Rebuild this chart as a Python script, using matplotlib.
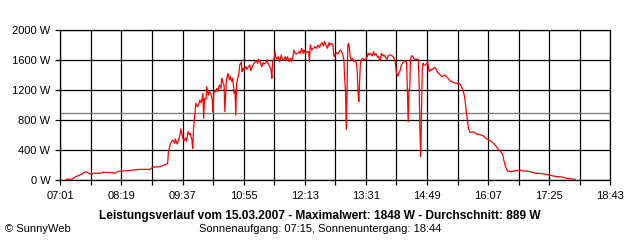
import matplotlib
matplotlib.use('Agg')
import matplotlib.pyplot as plt
import numpy as np

# minutes since midnight, 15.03.2007
minutes = [
    429, 436, 440, 446, 452, 455, 459, 463, 472, 475,
    484, 491, 495, 506, 514, 523, 533, 534, 535, 539,
    548, 556, 558, 559, 561, 563, 565, 567, 568, 570,
    572, 574, 575, 577, 579, 581, 582, 584, 586, 587,
    589, 590, 591, 592, 593, 594, 596, 598, 599, 601,
    603, 604, 605, 607, 608, 610, 611, 613, 615, 616,
    617, 619, 621, 622, 624, 626, 627, 628, 630, 631,
    633, 634, 635, 637, 638, 640, 641, 643, 644, 645,
    646, 647, 649, 650, 652, 653, 654, 655, 658, 659,
    661, 663, 664, 666, 668, 669, 671, 673, 674, 676,
    677, 678, 680, 681, 683, 685, 686, 688, 690, 691,
    692, 694, 695, 696, 698, 699, 701, 703, 704, 706,
    708, 709, 711, 713, 715, 716, 718, 719, 721, 722,
    724, 726, 727, 729, 731, 732, 734, 736, 738, 739,
    740, 742, 744, 746, 748, 750, 752, 753, 755, 757,
    758, 760, 762, 764, 765, 767, 769, 770, 771, 772,
    774, 775, 777, 779, 781, 782, 783, 784, 785, 786,
    787, 788, 789, 790, 791, 792, 794, 796, 797, 799,
    800, 801, 802, 803, 804, 805, 807, 809, 810, 812,
    814, 815, 817, 819, 821, 822, 824, 826, 827, 829,
    831, 833, 834, 836, 838, 839, 841, 843, 844, 846,
    848, 849, 850, 852, 853, 855, 856, 858, 860, 861,
    863, 864, 865, 866, 867, 868, 869, 871, 872, 874,
    878, 879, 880, 881, 882, 883, 884, 885, 887, 889,
    890, 892, 894, 895, 897, 899, 901, 902, 904, 906,
    908, 910, 912, 914, 916, 918, 921, 923, 927, 931,
    933, 935, 937, 938, 939, 940, 941, 942, 944, 948,
    952, 957, 961, 964, 967, 970, 974, 977, 980, 983,
    986, 987, 989, 991, 993, 995, 997, 999, 1004, 1008,
    1012, 1016, 1021, 1025, 1029, 1033, 1038, 1042, 1046, 1050,
    1055, 1059, 1063, 1067, 1072, 1076, 1078,
]
watts = [
    10, 10, 40, 67, 102, 107, 80, 89, 89, 102,
    102, 89, 115, 124, 133, 142, 142, 135, 142, 170,
    178, 209, 222, 378, 467, 511, 533, 489, 547, 480,
    533, 613, 680, 569, 524, 560, 520, 644, 600, 622,
    533, 422, 667, 800, 911, 1022, 978, 1022, 1067, 1031,
    1156, 822, 1089, 1076, 1244, 1133, 1178, 1156, 1067, 911,
    1178, 1178, 1222, 1178, 1267, 1222, 1356, 1311, 1267, 911,
    1333, 1378, 1422, 1333, 1378, 1311, 1356, 1156, 1200, 867,
    1289, 1333, 1422, 1533, 1573, 1444, 1489, 1467, 1511, 1476,
    1511, 1533, 1458, 1511, 1556, 1564, 1591, 1556, 1609, 1578,
    1542, 1511, 1564, 1550, 1556, 1600, 1556, 1520, 1467, 1356,
    1578, 1622, 1711, 1644, 1600, 1644, 1578, 1667, 1622, 1600,
    1644, 1600, 1644, 1578, 1622, 1578, 1644, 1733, 1689, 1680,
    1689, 1711, 1689, 1756, 1689, 1733, 1689, 1711, 1711, 1578,
    1800, 1733, 1756, 1778, 1756, 1800, 1767, 1800, 1831, 1787,
    1848, 1800, 1756, 1831, 1800, 1822, 1811, 1667, 1644, 1680,
    1698, 1680, 1711, 1733, 1689, 1644, 1600, 1333, 1200, 676,
    1200, 1800, 1822, 1756, 1644, 1609, 1622, 1578, 1600, 1556,
    1444, 1178, 1044, 1289, 1556, 1600, 1622, 1600, 1609, 1622,
    1689, 1667, 1689, 1653, 1711, 1667, 1680, 1636, 1644, 1591,
    1689, 1653, 1667, 1636, 1609, 1644, 1667, 1667, 1660, 1640,
    1600, 1530, 1431, 1387, 1422, 1467, 1520, 1564, 1578, 1591,
    1564, 1200, 778, 1200, 1222, 1600, 1653, 1653, 1622, 1610,
    1610, 1289, 667, 311, 933, 1467, 1556, 1533, 1533, 1556,
    1564, 1444, 1476, 1467, 1489, 1500, 1476, 1444, 1422, 1400,
    1378, 1387, 1400, 1378, 1356, 1324, 1311, 1298, 1289, 1280,
    1244, 1200, 1111, 1022, 933, 844, 756, 689, 631, 644,
    613, 604, 587, 556, 542, 520, 489, 453, 409, 378,
    333, 267, 187, 133, 111, 120, 107, 120, 124, 133,
    120, 120, 111, 98, 89, 89, 80, 71, 67, 53,
    44, 44, 36, 22, 18, 9, 9,
]
average = 889
maximum = 1848

time_labels = ['07:01', '08:19', '09:37', '10:55', '12:13',
               '13:31', '14:49', '16:07', '17:25', '18:43']
power_ticks = [0, 400, 800, 1200, 1600, 2000]

title = 'Leistungsverlauf vom 15.03.2007 - Maximalwert: %d W - Durchschnitt: %d W' % (maximum, average)
subtitle = 'Sonnenaufgang: 07:15, Sonnenuntergang: 18:44'

assert len(minutes) == len(watts)

plt.rcParams['font.family'] = 'Liberation Sans'
plt.rcParams['font.size'] = 8

fig = plt.figure(figsize=(6.4, 2.4), dpi=100)
ax = fig.add_axes([60.3/640, 60/240, 550/640, 150/240])

t0, t1 = 421, 1123
major = np.arange(t0, t1 + 1, 78)
minor = np.arange(t0 + 39, t1, 78)
ax.set_xlim(t0, t1)
ax.set_ylim(0, 2000)
ax.set_xticks(major)
ax.set_xticklabels(time_labels)
ax.set_xticks(minor, minor=True)
ax.set_yticks(power_ticks)
ax.set_yticklabels(['%d W' % v for v in power_ticks])

ax.grid(True, which='both', color='black', linewidth=0.9)
ax.set_axisbelow(True)
ax.tick_params(axis='both', which='both', length=3.6, width=0.9, color='black')
ax.tick_params(axis='x', pad=4)
ax.tick_params(axis='y', pad=3.5)
for s in ax.spines.values():
    s.set_linewidth(0.9)

ax.axhline(average, color='#808080', linewidth=1.0, zorder=2)
ax.plot(minutes, watts, color='red', linewidth=0.9, zorder=3)

fig.text(0.5, 1 - 216/240, title, ha='center', va='center', fontweight='bold', fontsize=8.6)
fig.text(0.5, 1 - 229/240, subtitle, ha='center', va='center', fontsize=8)
fig.text(5/640, 1 - 229/240, '\u00a9 SunnyWeb', ha='left', va='center', fontsize=8)

plt.savefig('out.png', dpi=100)
